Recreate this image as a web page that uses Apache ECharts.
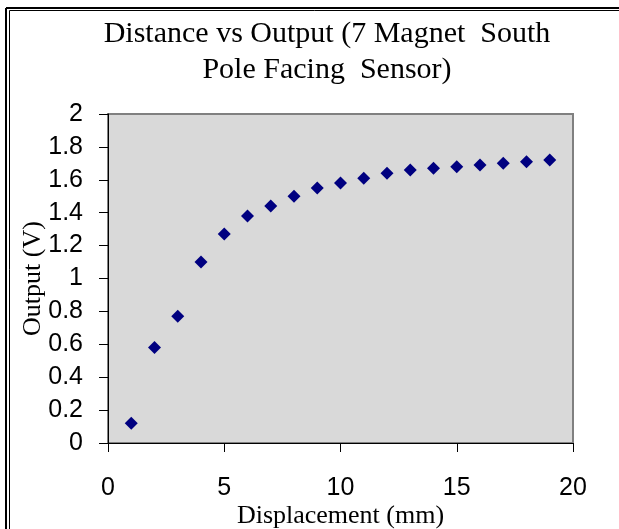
<!DOCTYPE html>
<html>
<head>
<meta charset="utf-8">
<script src="https://cdn.jsdelivr.net/npm/echarts@6/dist/echarts.min.js"></script>
<style>
html,body{margin:0;padding:0;background:#fff;}
#chart{width:619px;height:529px;}
</style>
</head>
<body>
<div id="chart"></div>
<script>
var displacement = [1, 2, 3, 4, 5, 6, 7, 8, 9, 10, 11, 12, 13, 14, 15, 16, 17, 18, 19];
var outputV = [0.12, 0.58, 0.77, 1.10, 1.27, 1.38, 1.44, 1.50, 1.55, 1.58, 1.61, 1.64, 1.66, 1.67, 1.68, 1.69, 1.70, 1.71, 1.72];
var titleLines = ['Distance vs Output (7 Magnet  South', 'Pole Facing  Sensor)'];
var xAxisTitle = 'Displacement (mm)';
var yAxisTitle = 'Output (V)';

var points = displacement.map(function (x, i) { return [x, outputV[i]]; });

var chart = echarts.init(document.getElementById('chart'), null, {renderer: 'canvas'});
chart.setOption({
  backgroundColor: '#ffffff',
  animation: false,
  title: {
    text: titleLines.join('\n'),
    left: 322,
    top: 11,
    textAlign: 'center',
    textStyle: {
      fontFamily: 'Liberation Serif',
      fontSize: 30,
      fontWeight: 'normal',
      color: '#000',
      lineHeight: 36
    }
  },
  graphic: [
    {type: 'line', shape: {x1: 6, y1: 8, x2: 619, y2: 8}, style: {stroke: '#000', lineWidth: 2}},
    {type: 'line', shape: {x1: 6, y1: 8, x2: 6, y2: 529}, style: {stroke: '#000', lineWidth: 2}},
    {type: 'line', shape: {x1: 9.5, y1: 10.5, x2: 619, y2: 10.5}, style: {stroke: '#000', lineWidth: 1}},
    {type: 'line', shape: {x1: 9.5, y1: 10.5, x2: 9.5, y2: 529}, style: {stroke: '#000', lineWidth: 1}}
  ],
  grid: {
    left: 108,
    top: 114,
    width: 465,
    height: 329,
    containLabel: false,
    outerBoundsMode: 'none',
    show: true,
    backgroundColor: '#d9d9d9',
    borderColor: '#808080',
    borderWidth: 2
  },
  xAxis: {
    type: 'value',
    min: 0,
    max: 20,
    interval: 5,
    name: xAxisTitle,
    nameLocation: 'middle',
    nameGap: 60,
    nameMoveOverlap: false,
    nameTextStyle: {fontFamily: 'Liberation Serif', fontSize: 26, color: '#000'},
    axisLine: {show: true, onZero: false, lineStyle: {color: '#000', width: 1}},
    axisTick: {show: true, inside: false, length: 9, lineStyle: {color: '#000'}},
    axisLabel: {margin: 33, fontFamily: 'Liberation Sans', fontSize: 25, color: '#000'},
    splitLine: {show: false}
  },
  yAxis: {
    type: 'value',
    min: 0,
    max: 2,
    interval: 0.2,
    name: yAxisTitle,
    nameLocation: 'middle',
    nameGap: 62,
    nameRotate: 90,
    nameMoveOverlap: false,
    nameTextStyle: {fontFamily: 'Liberation Serif', fontSize: 26, color: '#000'},
    axisLine: {show: true, lineStyle: {color: '#000', width: 1}},
    axisTick: {show: true, inside: false, length: 9, lineStyle: {color: '#000'}},
    axisLabel: {margin: 25, fontFamily: 'Liberation Sans', fontSize: 25, color: '#000',
      formatter: function (v) { return String(Math.round(v * 10) / 10); }},
    splitLine: {show: false}
  },
  series: [{
    type: 'scatter',
    data: points,
    symbol: 'diamond',
    symbolSize: 13,
    itemStyle: {color: '#000080', opacity: 1}
  }]
});
</script>
</body>
</html>
